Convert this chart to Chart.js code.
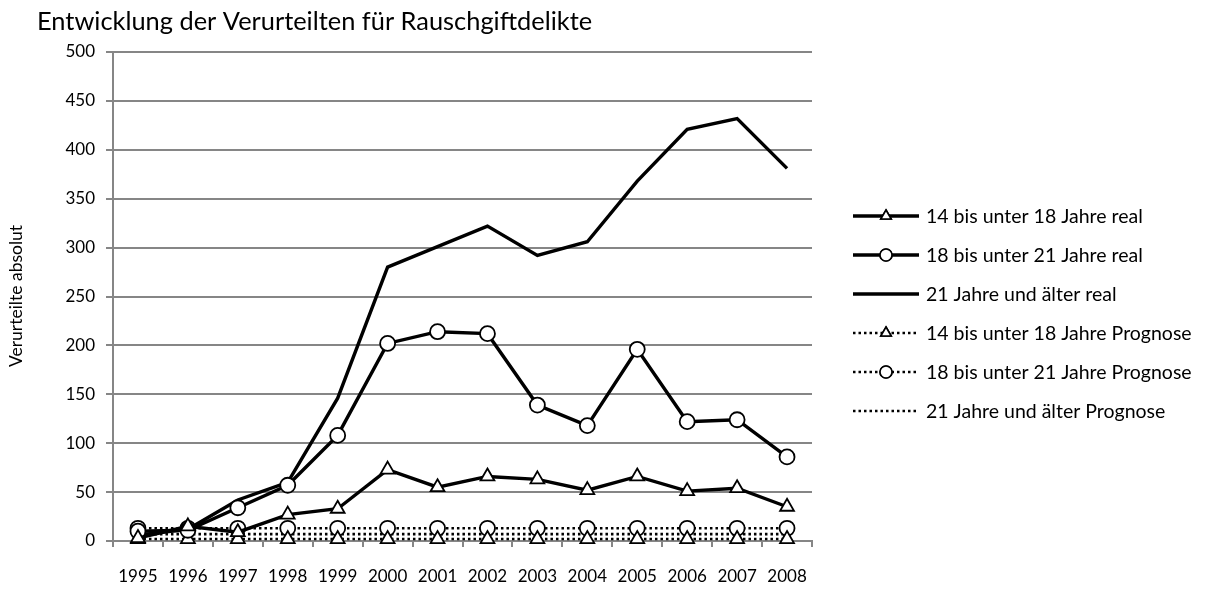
<!DOCTYPE html>
<html>
<head>
<meta charset="utf-8">
<script src="https://cdn.jsdelivr.net/npm/chart.js@4"></script>
<style>
  html, body { margin: 0; padding: 0; background: #fff; }
  #wrap { width: 1232px; height: 598px; position: relative; }
</style>
</head>
<body>
<div id="wrap"><canvas id="c" width="1232" height="598"></canvas></div>
<script>
// Jahre
const years = ['1995','1996','1997','1998','1999','2000','2001','2002','2003','2004','2005','2006','2007','2008'];

// Verurteilte, reale Werte
const real14bis18 = [3, 15, 9, 27, 33, 73, 55, 66, 63, 52, 66, 51, 54, 35];
const real18bis21 = [10, 11, 34, 57, 108, 202, 214, 212, 139, 118, 196, 122, 124, 86];
const real21plus  = [6, 12, 42, 60, 146, 280, 301, 322, 292, 306, 368, 421, 432, 381];

// Prognosewerte
const prog14bis18 = [2, 2, 2, 2, 2, 2, 2, 2, 2, 2, 2, 2, 2, 2];
const prog18bis21 = [13, 13, 13, 13, 13, 13, 13, 13, 13, 13, 13, 13, 13, 13];
const prog21plus  = [7, 7, 7, 7, 7, 7, 7, 7, 7, 7, 7, 7, 7, 7];

// Achsenbeschriftung
const yTicks = [0, 50, 100, 150, 200, 250, 300, 350, 400, 450, 500];

const seriesNames = [
  '14 bis unter 18 Jahre real',
  '18 bis unter 21 Jahre real',
  '21 Jahre und älter real',
  '14 bis unter 18 Jahre Prognose',
  '18 bis unter 21 Jahre Prognose',
  '21 Jahre und älter Prognose'
];

const FONT = 'Lato, "Open Sans", sans-serif';
const GRID = '#868686';
const DOT = [2.5, 3];

function series(label, data, marker, dotted) {
  return {
    label, data,
    borderColor: '#000',
    borderWidth: dotted ? 2.6 : 3.4,
    borderDash: dotted ? DOT : [],
    tension: 0,
    fill: false,
    pointStyle: marker || false,
    pointRadius: marker ? (marker === 'triangle' ? 8 : 7.5) : 0,
    pointBackgroundColor: '#fff',
    pointBorderColor: '#000',
    pointBorderWidth: 1.8,
    clip: false
  };
}

const datasets = [
  series(seriesNames[0], real14bis18, 'triangle', false),
  series(seriesNames[1], real18bis21, 'circle', false),
  series(seriesNames[2], real21plus, null, false),
  series(seriesNames[3], prog14bis18, 'triangle', true),
  series(seriesNames[4], prog18bis21, 'circle', true),
  series(seriesNames[5], prog21plus, null, true)
];

// Titel, Achsentitel und Legende rechts
const decorations = {
  id: 'decorations',
  afterDraw(chart) {
    const ctx = chart.ctx;
    ctx.save();
    ctx.fillStyle = '#000';
    ctx.textBaseline = 'middle';
    ctx.textAlign = 'left';
    ctx.font = '25.4px ' + FONT;
    ctx.fillText('Entwicklung der Verurteilten für Rauschgiftdelikte', 37, 22);

    ctx.save();
    ctx.translate(16, 296);
    ctx.rotate(-Math.PI / 2);
    ctx.textAlign = 'center';
    ctx.font = '17.5px ' + FONT;
    ctx.fillText('Verurteilte absolut', 0, 0);
    ctx.restore();

    const rowY = [216, 255, 294, 333, 372, 411];
    const x0 = 853, x1 = 919, xm = 886;
    chart.data.datasets.forEach((ds, i) => {
      const y = rowY[i];
      ctx.save();
      ctx.strokeStyle = '#000';
      ctx.lineWidth = ds.borderWidth;
      ctx.setLineDash(ds.borderDash);
      ctx.beginPath();
      ctx.moveTo(x0, y);
      ctx.lineTo(x1, y);
      ctx.stroke();
      ctx.restore();
      if (ds.pointStyle) {
        ctx.save();
        ctx.fillStyle = '#fff';
        ctx.strokeStyle = '#000';
        ctx.lineWidth = 1.6;
        Chart.helpers.drawPoint(ctx, { pointStyle: ds.pointStyle, radius: 6, rotation: 0, borderWidth: 1.6 }, xm, y);
        ctx.fill();
        ctx.stroke();
        ctx.restore();
      }
      ctx.fillStyle = '#000';
      ctx.font = '19.5px ' + FONT;
      ctx.textAlign = 'left';
      ctx.fillText(ds.label, 926, y + 1);
    });
    ctx.restore();
  }
};

new Chart(document.getElementById('c'), {
  type: 'line',
  data: { labels: years, datasets },
  options: {
    responsive: false,
    animation: false,
    devicePixelRatio: 1,
    layout: { padding: { top: 52, right: 420, bottom: 0, left: 0 } },
    plugins: { legend: { display: false }, title: { display: false }, tooltip: { enabled: false } },
    scales: {
      x: {
        offset: true,
        grid: { offset: true, drawOnChartArea: false, drawTicks: true, tickLength: 6, color: GRID, lineWidth: 2 },
        border: { color: GRID, width: 2 },
        ticks: { color: '#000', font: { family: FONT, size: 17 }, padding: 19, maxRotation: 0, autoSkip: false },
        afterFit(scale) { scale.height = 57; }
      },
      y: {
        min: 0, max: 500,
        afterBuildTicks(scale) { scale.ticks = yTicks.map(v => ({ value: v })); },
        grid: { color: GRID, lineWidth: 2, tickLength: 7 },
        border: { color: GRID, width: 2 },
        ticks: { color: '#000', font: { family: FONT, size: 17 }, padding: 11 },
        afterFit(scale) { scale.width = 113; }
      }
    }
  },
  plugins: [decorations]
});
</script>
</body>
</html>
